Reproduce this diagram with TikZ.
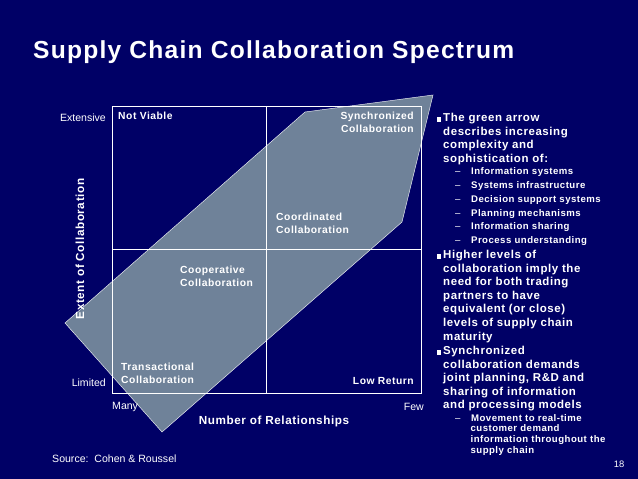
\documentclass[tikz,border=0pt]{standalone}
\usepackage{fontspec}
\setmainfont{Liberation Sans}
\newfontfamily\wide[LetterSpace=5]{Liberation Sans}
\definecolor{navy}{HTML}{000066}
\definecolor{arrowgray}{HTML}{6F8299}
\newcommand{\dashmark}{{\rmfamily\mdseries –}}
\begin{document}
\begin{tikzpicture}[x=0.03cm,y=-0.03cm,
	lbl/.style={text=white,font=\wide\bfseries\fontsize{8.8}{10.5}\selectfont,align=left,inner sep=0pt},
	axis/.style={text=white,font=\fontsize{9}{10}\selectfont,inner sep=0pt},
	bul/.style={text=white,font=\wide\bfseries\fontsize{9.8}{11.6}\selectfont,anchor=north west,align=left,inner sep=0pt},
	sub/.style={text=white,font=\wide\bfseries\fontsize{8.2}{11.9}\selectfont,anchor=north west,align=left,inner sep=0pt}]
	%background
	\fill[navy] (0,0) rectangle (638,479);
	\useasboundingbox (0,0) rectangle (638,479);
	\node[anchor=west,text=white,font=\wide\bfseries\fontsize{21}{24}\selectfont,inner sep=0pt] (title) at (33,52) {Supply Chain Collaboration Spectrum};
	%green arrow
	\fill[arrowgray] (65,323) -- (305,112) -- (433,95) -- (402,222) -- (162,432) -- cycle;
	\draw[white!85!arrowgray] (65,323) -- (305,112) -- (433,95) -- (402,222) -- (162,432) -- cycle;
	%grid
	\draw[white] (112,106) rectangle (421,393);
	\draw[white] (266,106) -- (266,393);
	\draw[white] (112,249) -- (421,249);
	%quadrant labels
	\node[lbl,anchor=north west] (nv) at (118,112) {Not Viable};
	\node[lbl,anchor=north east,align=right] (sync) at (414,112) {Synchronized\\Collaboration};
	\node[lbl,anchor=north west] (coord) at (276,213) {Coordinated\\Collaboration};
	\node[lbl,anchor=north west] (coop) at (180,266) {Cooperative\\Collaboration};
	\node[lbl,anchor=north west] (trans) at (121,363) {Transactional\\Collaboration};
	\node[lbl,anchor=north east] (low) at (414,377) {Low Return};
	%axes
	\node[axis,anchor=east] (ext) at (106,118) {Extensive};
	\node[axis,anchor=east] (lim) at (106,383) {Limited};
	\node[axis,anchor=west] (many) at (112,407) {Many};
	\node[axis,anchor=east] (few) at (424,407) {Few};
	\node[lbl,font=\wide\bfseries\fontsize{10}{11}\selectfont] (xlab) at (274,421) {Number of Relationships};
	\node[lbl,font=\wide\bfseries\fontsize{10}{11}\selectfont,rotate=90] (ylab) at (80,249) {Extent of Collaboration};
	\node[axis,anchor=west] (src) at (52,459) {Source:\ \ Cohen \& Roussel};
	\node[text=white,font=\fontsize{8}{9}\selectfont\rmfamily,inner sep=0pt] (page) at (619,464) {18};
	%bullets
	\node[bul] (b1) at (443,113) {\llap{\rule{3.5pt}{3.5pt}\,}The green arrow\\describes increasing\\complexity and\\sophistication of:};
	\node[sub] (s1) at (455,167) {\dashmark\hspace{1.1em}Information systems\\\dashmark\hspace{1.1em}Systems infrastructure\\\dashmark\hspace{1.1em}Decision support systems\\\dashmark\hspace{1.1em}Planning mechanisms\\\dashmark\hspace{1.1em}Information sharing\\\dashmark\hspace{1.1em}Process understanding};
	\node[sub] (b2) at (443,250) {};
	\node[bul] (b2) at (443,250) {\llap{\rule{3.5pt}{3.5pt}\,}Higher levels of\\collaboration imply the\\need for both trading\\partners to have\\equivalent (or close)\\levels of supply chain\\maturity};
	\node[bul] (b3) at (443,346) {\llap{\rule{3.5pt}{3.5pt}\,}Synchronized\\collaboration demands\\joint planning, R\&D and\\sharing of information\\and processing models};
	\node[sub,font=\wide\bfseries\fontsize{8.2}{9.2}\selectfont] (s3) at (455,414) {\dashmark\hspace{1.1em}Movement to real-time\\\hspace{1.6em}customer demand\\\hspace{1.6em}information throughout the\\\hspace{1.6em}supply chain};
\end{tikzpicture}
\end{document}
